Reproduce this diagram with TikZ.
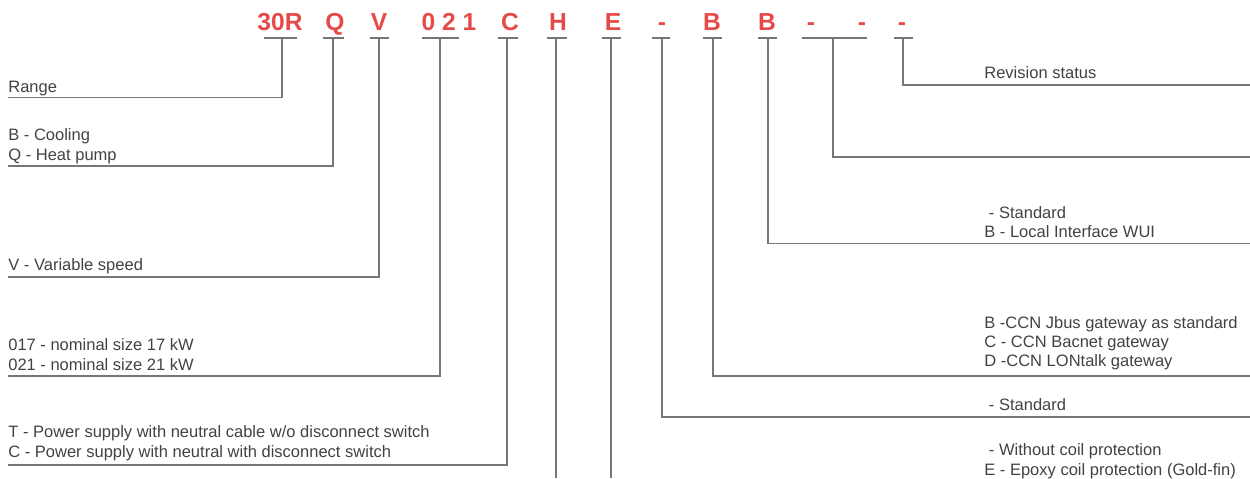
\documentclass[tikz,border=0pt]{standalone}
\usepackage{fontspec}
\setmainfont{Liberation Sans}
\definecolor{codered}{RGB}{230,74,72}
\definecolor{textgray}{RGB}{66,66,66}
\definecolor{linegray}{RGB}{118,118,118}
\newcommand\descfont{\fontsize{9.4}{11}\selectfont}
\newcommand\codefont{\fontsize{14}{16}\selectfont\bfseries}
\tikzset{
  code/.style={text=codered, font=\codefont, anchor=base, inner sep=0pt},
  desc/.style={text=textgray, font=\descfont, anchor=base west, inner sep=0pt},
  lead/.style={draw=linegray, line width=0.6pt},
}
\begin{document}
\begin{tikzpicture}[x=0.02cm, y=-0.02cm]
  \useasboundingbox (0,0) rectangle (1250,478);
  % code letters with their tick bars
  \foreach \n/\t/\x/\a/\b/\s in {rng/30R/280/264/297/282, typ/Q/335/323/344/333,
      spd/V/379/370/389/379, size/0 2 1/449/422/459/440, pwr/C/510/498/518/507,
      hyd/H/558/547/567/556, coil/E/613/602/621/611, std/-/662/652/670/662,
      gw/B/712/703/722/713, ui/B/767/758/777/768, opt/-/811/802/867/833,
      rev/-/902/894/913/903} {
    \node[code] (c-\n) at (\x,30) {\t};
    \draw[lead] (\a,38) -- (\b,38);
    \coordinate (t-\n) at (\s,38);
  }
  \node[code] (c-opt2) at (862,30) {-};
  % left side descriptions
  \node[desc] (d-rng) at (8,92) {Range};
  \node[desc] (d-typ1) at (8,140.5) {B - Cooling};
  \node[desc] (d-typ2) at (8,160) {Q - Heat pump};
  \node[desc] (d-spd) at (8,270.8) {V - Variable speed};
  \node[desc] (d-size1) at (8,350.6) {017 - nominal size 17 kW};
  \node[desc] (d-size2) at (8,370) {021 - nominal size 21 kW};
  \node[desc] (d-pwr1) at (8,437.4) {T - Power supply with neutral cable w/o disconnect switch};
  \node[desc] (d-pwr2) at (8,457) {C - Power supply with neutral with disconnect switch};
  % right side descriptions
  \node[desc] (d-rev) at (984,78.3) {Revision status};
  \node[desc] (d-ui1) at (984,218.3) {\ - Standard};
  \node[desc] (d-ui2) at (984,237.5) {B - Local Interface WUI};
  \node[desc] (d-gw1) at (984,328.3) {B -CCN Jbus gateway as standard};
  \node[desc] (d-gw2) at (984,347.6) {C - CCN Bacnet gateway};
  \node[desc] (d-gw3) at (984,366.8) {D -CCN LONtalk gateway};
  \node[desc] (d-std) at (984,410.8) {\ - Standard};
  \node[desc] (d-coil1) at (984,455.8) {\ - Without coil protection};
  \node[desc] (d-coil2) at (984,475.6) {E - Epoxy coil protection (Gold-fin)};
  % ends of the leader lines
  \coordinate (e-rng) at (8,97.5);
  \coordinate (e-typ) at (8,166);
  \coordinate (e-spd) at (8,277);
  \coordinate (e-size) at (8,376);
  \coordinate (e-pwr) at (8,465);
  \coordinate (e-hyd) at (556,478);
  \coordinate (e-coil) at (611,478);
  \coordinate (e-std) at (1250,417);
  \coordinate (e-gw) at (1250,376);
  \coordinate (e-ui) at (1250,243.5);
  \coordinate (e-opt) at (1250,157);
  \coordinate (e-rev) at (1250,85);
  % leader lines
  \foreach \n in {rng,typ,spd,size,pwr,std,gw,ui,opt,rev}
    \draw[lead] (t-\n) |- (e-\n);
  \draw[lead] (t-hyd) -- (e-hyd);
  \draw[lead] (t-coil) -- (e-coil);
\end{tikzpicture}
\end{document}
